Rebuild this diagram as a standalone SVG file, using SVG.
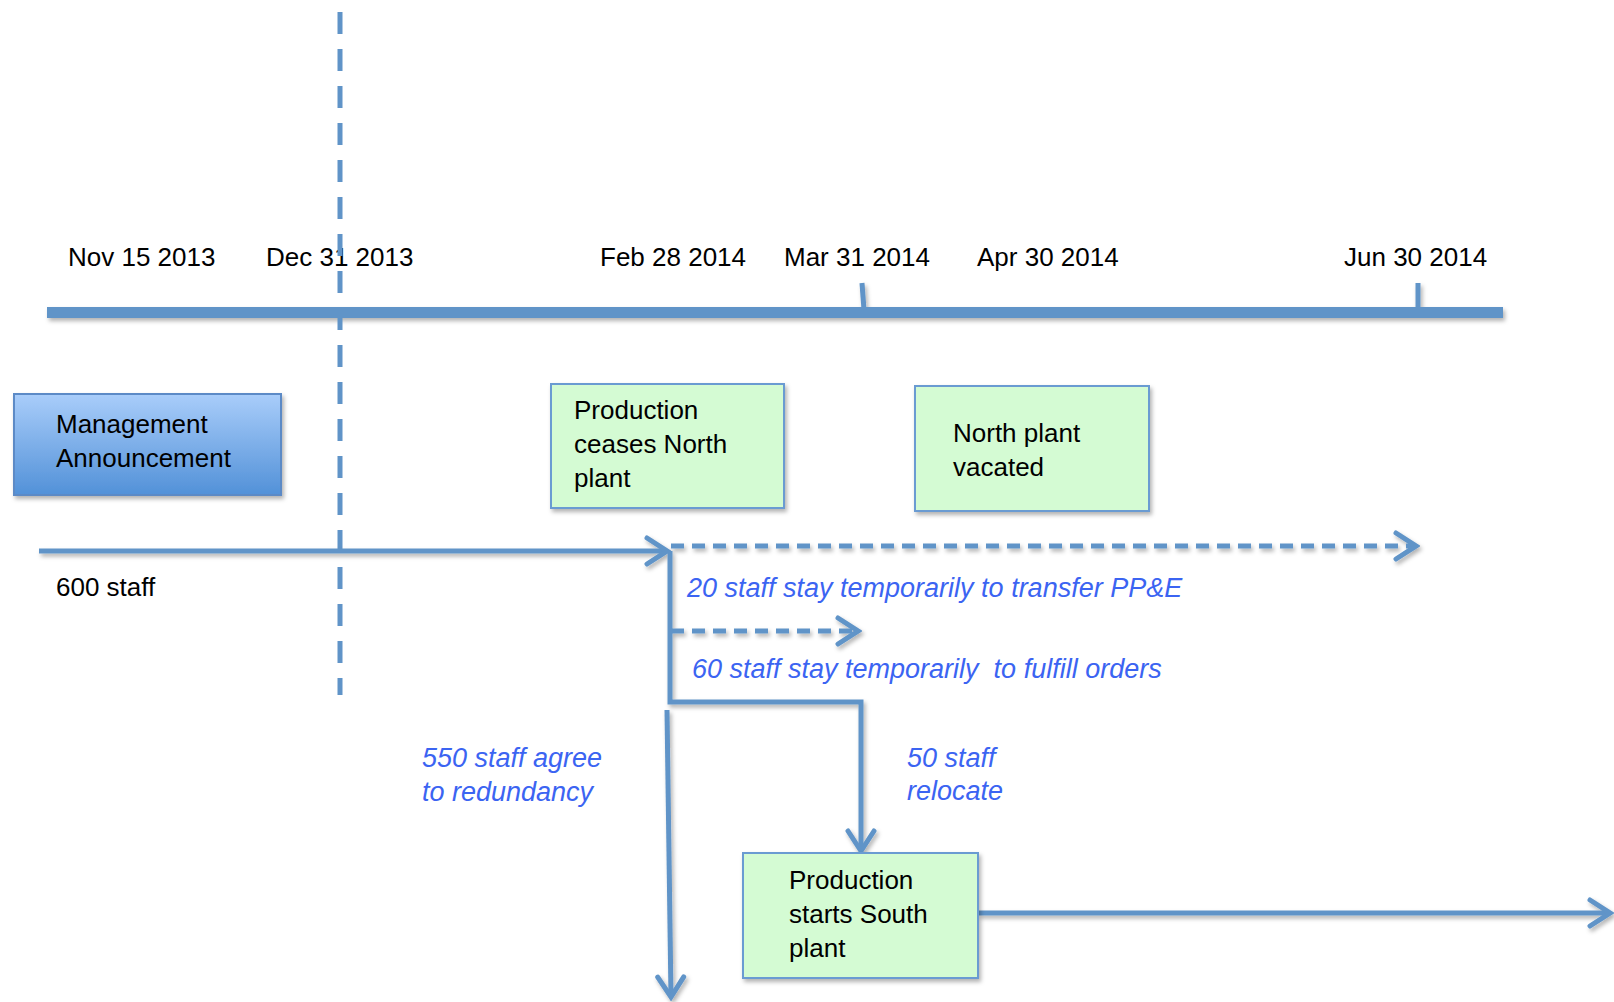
<svg xmlns="http://www.w3.org/2000/svg" width="1614" height="1002" viewBox="0 0 1614 1002">
<style>
.lbl{font-family:"Liberation Sans",Arial,sans-serif;font-size:26px;fill:#000}
.it{font-family:"Liberation Sans",Arial,sans-serif;font-size:27px;font-style:italic;fill:#3b64f2}
.ln{fill:none;stroke:#6094c8;stroke-width:5}
.dash{stroke-dasharray:13 8}
.box{fill:#d4fbd3;stroke:#6b9bd2;stroke-width:2;filter:url(#sh)}
</style>
<defs>
<linearGradient id="g1" x1="0" y1="0" x2="0" y2="1">
<stop offset="0" stop-color="#a9cdfa"/>
<stop offset="1" stop-color="#5291d8"/>
</linearGradient>
<filter id="sh" x="-10%" y="-20%" width="130%" height="150%">
<feDropShadow dx="2" dy="3" stdDeviation="2" flood-color="#000" flood-opacity="0.3"/>
</filter>
<marker id="ah" markerUnits="userSpaceOnUse" viewBox="-26 -18 30 36" refX="0" refY="0" markerWidth="30" markerHeight="36" orient="auto">
<path d="M-20,-13 L0,0 L-20,13" fill="none" stroke="#6094c8" stroke-width="5" stroke-linecap="round"/>
</marker>
</defs>
<rect width="1614" height="1002" fill="#fff"/>

<g id="timeline" filter="url(#sh)">
<rect x="47" y="307" width="1456" height="11" fill="#6094c8"/>
<line x1="862" y1="283" x2="864" y2="310" stroke="#6094c8" stroke-width="5"/>
<line x1="1418" y1="283" x2="1418" y2="310" stroke="#6094c8" stroke-width="5"/>
</g>
<g id="dates">
<text class="lbl" x="68" y="266">Nov 15 2013</text>
<text class="lbl" x="266" y="266">Dec 31 2013</text>
<text class="lbl" x="600" y="266">Feb 28 2014</text>
<text class="lbl" x="784" y="266">Mar 31 2014</text>
<text class="lbl" x="977" y="266">Apr 30 2014</text>
<text class="lbl" x="1344" y="266">Jun 30 2014</text>
</g>
<g id="cutoff">
<line class="ln" x1="340" y1="12" x2="340" y2="695" stroke-dasharray="22 15"/>
</g>

<g id="connectors" filter="url(#sh)">
<line class="ln" x1="39" y1="551" x2="667" y2="551" marker-end="url(#ah)"/>
<line class="ln dash" x1="671" y1="546" x2="1416" y2="546" marker-end="url(#ah)"/>
<polyline class="ln" points="670,551 670,702 861,702 861,851" marker-end="url(#ah)"/>
<line class="ln dash" x1="671" y1="631" x2="858" y2="631" marker-end="url(#ah)"/>
<line class="ln" x1="667" y1="710" x2="671" y2="997" marker-end="url(#ah)"/>
<line class="ln" x1="978" y1="913" x2="1610" y2="913" marker-end="url(#ah)"/>
</g>

<g id="n-announcement">
<rect x="14" y="394" width="267" height="101" fill="url(#g1)" stroke="#5b8ac6" stroke-width="2" filter="url(#sh)"/>
<text class="lbl" x="56" y="433">Management</text>
<text class="lbl" x="56" y="467">Announcement</text>
</g>
<g id="n-ceases">
<rect class="box" x="551" y="384" width="233" height="124"/>
<text class="lbl" x="574" y="419">Production</text>
<text class="lbl" x="574" y="453">ceases North</text>
<text class="lbl" x="574" y="487">plant</text>
</g>
<g id="n-vacated">
<rect class="box" x="915" y="386" width="234" height="125"/>
<text class="lbl" x="953" y="442">North plant</text>
<text class="lbl" x="953" y="476">vacated</text>
</g>
<g id="n-south">
<rect class="box" x="743" y="853" width="235" height="125"/>
<text class="lbl" x="789" y="889">Production</text>
<text class="lbl" x="789" y="923">starts South</text>
<text class="lbl" x="789" y="957">plant</text>
</g>

<g id="labels">
<text class="lbl" x="56" y="596">600 staff</text>
<text class="it" x="687" y="597">20 staff stay temporarily to transfer PP&amp;E</text>
<text class="it" x="692" y="678" xml:space="preserve">60 staff stay temporarily  to fulfill orders</text>
<text class="it" x="422" y="767">550 staff agree</text>
<text class="it" x="422" y="801">to redundancy</text>
<text class="it" x="907" y="767">50 staff</text>
<text class="it" x="907" y="800">relocate</text>
</g>
</svg>
